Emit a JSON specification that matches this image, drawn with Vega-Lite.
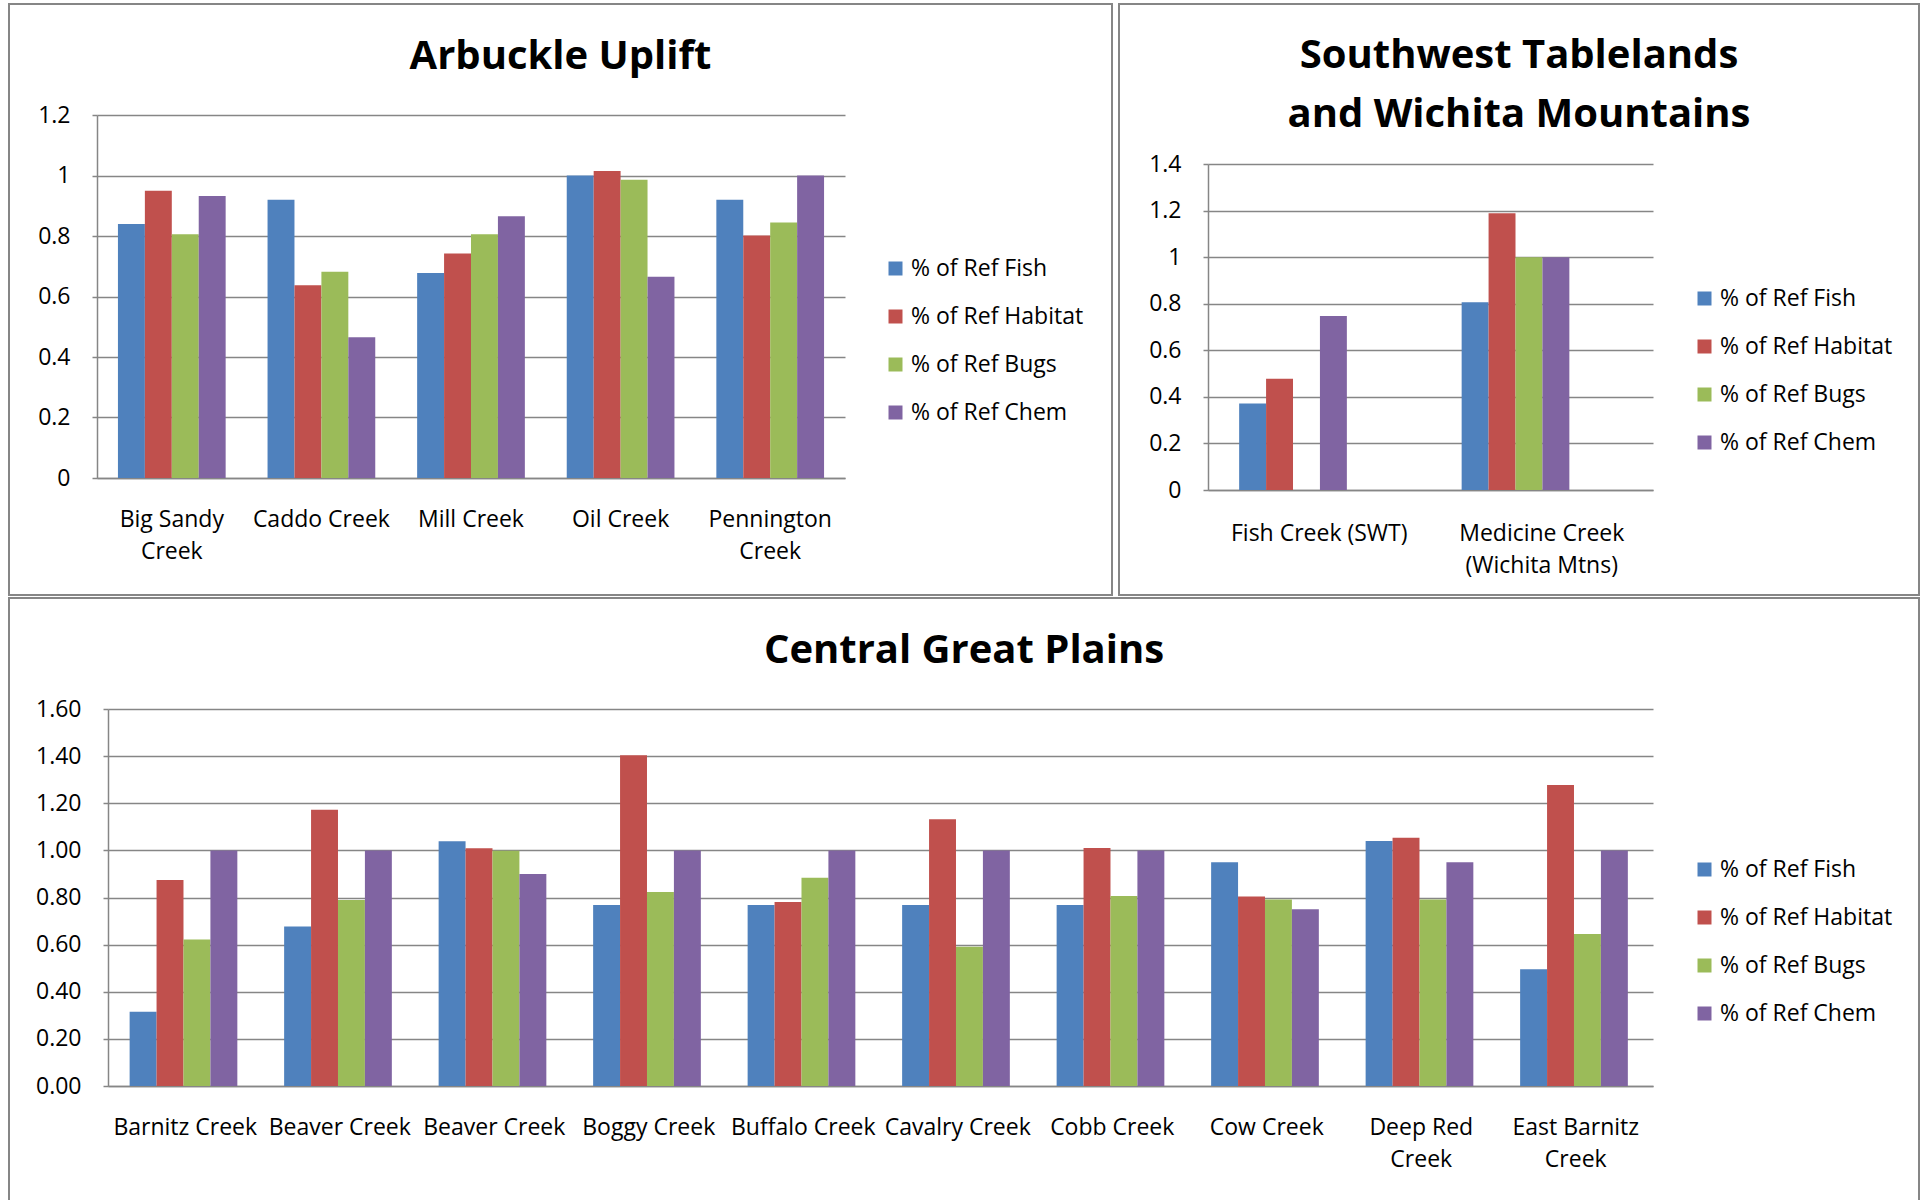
{
  "$schema": "https://vega.github.io/schema/vega-lite/v6.json",
  "padding": {"left": 8, "top": 3, "right": 0, "bottom": 0},
  "background": "white",
  "spacing": 1,
  "config": {
    "font": "Open Sans",
    "view": {"stroke": "#868686", "strokeWidth": 2},
    "axis": {
      "labelFont": "Open Sans", "labelFontSize": 23, "labelColor": "#000000",
      "domainColor": "#868686", "domainWidth": 1.5,
      "gridColor": "#868686", "gridWidth": 1.5,
      "tickColor": "#868686", "tickWidth": 1.5
    },
    "axisX": {"ticks": false, "grid": false, "labelAngle": 0, "labelBaseline": "alphabetic", "labelPadding": 48, "labelLineHeight": 32, "labelLimit": 0},
    "axisY": {"tickSize": 5, "labelPadding": 22, "grid": true},
    "legend": {
      "symbolType": "square", "symbolSize": 196, "symbolStrokeWidth": 0,
      "labelFont": "Open Sans", "labelFontSize": 23, "labelColor": "#000000",
      "rowPadding": 24, "labelOffset": 4, "padding": 0, "labelLimit": 0
    },
    "title": {"font": "Open Sans", "fontSize": 40, "fontWeight": "bold", "color": "#000000", "anchor": "middle", "frame": "group", "baseline": "alphabetic"}
  },
  "datasets": {
    "arb": [
      {"site": "Big Sandy|Creek", "series": "% of Ref Fish", "value": 0.84},
      {"site": "Big Sandy|Creek", "series": "% of Ref Habitat", "value": 0.95},
      {"site": "Big Sandy|Creek", "series": "% of Ref Bugs", "value": 0.806},
      {"site": "Big Sandy|Creek", "series": "% of Ref Chem", "value": 0.932},
      {"site": "Caddo Creek", "series": "% of Ref Fish", "value": 0.92},
      {"site": "Caddo Creek", "series": "% of Ref Habitat", "value": 0.637},
      {"site": "Caddo Creek", "series": "% of Ref Bugs", "value": 0.682},
      {"site": "Caddo Creek", "series": "% of Ref Chem", "value": 0.465},
      {"site": "Mill Creek", "series": "% of Ref Fish", "value": 0.678},
      {"site": "Mill Creek", "series": "% of Ref Habitat", "value": 0.742},
      {"site": "Mill Creek", "series": "% of Ref Bugs", "value": 0.806},
      {"site": "Mill Creek", "series": "% of Ref Chem", "value": 0.865},
      {"site": "Oil Creek", "series": "% of Ref Fish", "value": 1.0},
      {"site": "Oil Creek", "series": "% of Ref Habitat", "value": 1.015},
      {"site": "Oil Creek", "series": "% of Ref Bugs", "value": 0.986},
      {"site": "Oil Creek", "series": "% of Ref Chem", "value": 0.665},
      {"site": "Pennington|Creek", "series": "% of Ref Fish", "value": 0.92},
      {"site": "Pennington|Creek", "series": "% of Ref Habitat", "value": 0.802},
      {"site": "Pennington|Creek", "series": "% of Ref Bugs", "value": 0.845},
      {"site": "Pennington|Creek", "series": "% of Ref Chem", "value": 1.0}
    ],
    "swt": [
      {"site": "Fish Creek (SWT)", "series": "% of Ref Fish", "value": 0.371},
      {"site": "Fish Creek (SWT)", "series": "% of Ref Habitat", "value": 0.478},
      {"site": "Fish Creek (SWT)", "series": "% of Ref Chem", "value": 0.747},
      {"site": "Medicine Creek|(Wichita Mtns)", "series": "% of Ref Fish", "value": 0.806},
      {"site": "Medicine Creek|(Wichita Mtns)", "series": "% of Ref Habitat", "value": 1.188},
      {"site": "Medicine Creek|(Wichita Mtns)", "series": "% of Ref Bugs", "value": 1.0},
      {"site": "Medicine Creek|(Wichita Mtns)", "series": "% of Ref Chem", "value": 1.0}
    ],
    "cgp": [
      {"site": "Barnitz Creek", "series": "% of Ref Fish", "value": 0.315},
      {"site": "Barnitz Creek", "series": "% of Ref Habitat", "value": 0.874},
      {"site": "Barnitz Creek", "series": "% of Ref Bugs", "value": 0.622},
      {"site": "Barnitz Creek", "series": "% of Ref Chem", "value": 1.0},
      {"site": "Beaver Creek", "series": "% of Ref Fish", "value": 0.677},
      {"site": "Beaver Creek", "series": "% of Ref Habitat", "value": 1.172},
      {"site": "Beaver Creek", "series": "% of Ref Bugs", "value": 0.789},
      {"site": "Beaver Creek", "series": "% of Ref Chem", "value": 1.0},
      {"site": "Beaver Creek|", "series": "% of Ref Fish", "value": 1.039},
      {"site": "Beaver Creek|", "series": "% of Ref Habitat", "value": 1.009},
      {"site": "Beaver Creek|", "series": "% of Ref Bugs", "value": 0.998},
      {"site": "Beaver Creek|", "series": "% of Ref Chem", "value": 0.9},
      {"site": "Boggy Creek", "series": "% of Ref Fish", "value": 0.768},
      {"site": "Boggy Creek", "series": "% of Ref Habitat", "value": 1.404},
      {"site": "Boggy Creek", "series": "% of Ref Bugs", "value": 0.823},
      {"site": "Boggy Creek", "series": "% of Ref Chem", "value": 1.0},
      {"site": "Buffalo Creek", "series": "% of Ref Fish", "value": 0.768},
      {"site": "Buffalo Creek", "series": "% of Ref Habitat", "value": 0.781},
      {"site": "Buffalo Creek", "series": "% of Ref Bugs", "value": 0.884},
      {"site": "Buffalo Creek", "series": "% of Ref Chem", "value": 1.0},
      {"site": "Cavalry Creek", "series": "% of Ref Fish", "value": 0.768},
      {"site": "Cavalry Creek", "series": "% of Ref Habitat", "value": 1.132},
      {"site": "Cavalry Creek", "series": "% of Ref Bugs", "value": 0.591},
      {"site": "Cavalry Creek", "series": "% of Ref Chem", "value": 1.0},
      {"site": "Cobb Creek", "series": "% of Ref Fish", "value": 0.768},
      {"site": "Cobb Creek", "series": "% of Ref Habitat", "value": 1.01},
      {"site": "Cobb Creek", "series": "% of Ref Bugs", "value": 0.806},
      {"site": "Cobb Creek", "series": "% of Ref Chem", "value": 1.0},
      {"site": "Cow Creek", "series": "% of Ref Fish", "value": 0.95},
      {"site": "Cow Creek", "series": "% of Ref Habitat", "value": 0.804},
      {"site": "Cow Creek", "series": "% of Ref Bugs", "value": 0.792},
      {"site": "Cow Creek", "series": "% of Ref Chem", "value": 0.75},
      {"site": "Deep Red|Creek", "series": "% of Ref Fish", "value": 1.04},
      {"site": "Deep Red|Creek", "series": "% of Ref Habitat", "value": 1.054},
      {"site": "Deep Red|Creek", "series": "% of Ref Bugs", "value": 0.792},
      {"site": "Deep Red|Creek", "series": "% of Ref Chem", "value": 0.95},
      {"site": "East Barnitz|Creek", "series": "% of Ref Fish", "value": 0.496},
      {"site": "East Barnitz|Creek", "series": "% of Ref Habitat", "value": 1.277},
      {"site": "East Barnitz|Creek", "series": "% of Ref Bugs", "value": 0.645},
      {"site": "East Barnitz|Creek", "series": "% of Ref Chem", "value": 1.0}
    ]
  },
  "resolve": {"scale": {"color": "independent"}, "legend": {"color": "independent"}},
  "vconcat": [
    {
      "hconcat": [
        {
          "width": 1103, "height": 591,
          "title": {"text": "Arbuckle Uplift", "offset": -73},
          "data": {"name": "arb"},
          "mark": {"type": "bar"},
          "encoding": {
            "x": {"field": "site", "type": "nominal", "sort": null, "title": null,
                  "scale": {"range": [88, 836], "paddingInner": 0.28, "paddingOuter": 0.14},
                  "axis": {"offset": -117, "labelExpr": "split(datum.value, '|')"}},
            "xOffset": {"field": "series", "type": "nominal",
                  "scale": {"domain": ["% of Ref Fish", "% of Ref Habitat", "% of Ref Bugs", "% of Ref Chem"], "paddingInner": 0, "paddingOuter": 0}},
            "y": {"field": "value", "type": "quantitative", "title": null,
                  "scale": {"domain": [0, 1.2], "range": [474, 111], "nice": false},
                  "axis": {"offset": -88, "values": [0, 0.2, 0.4, 0.6, 0.8, 1, 1.2], "format": "~g"}},
            "color": {"field": "series", "type": "nominal",
                  "scale": {"domain": ["% of Ref Fish", "% of Ref Habitat", "% of Ref Bugs", "% of Ref Chem"], "range": ["#4F81BD", "#C0504D", "#9BBB59", "#8064A2"]},
                  "legend": {"title": null, "orient": "none", "legendX": 875, "legendY": 253}}
          }
        },
        {
          "width": 800, "height": 591,
          "title": {"text": ["Southwest Tablelands", "and Wichita Mountains"], "offset": -131, "lineHeight": 59},
          "data": {"name": "swt"},
          "mark": {"type": "bar"},
          "encoding": {
            "x": {"field": "site", "type": "nominal", "sort": null, "title": null,
                  "scale": {"range": [89, 534], "paddingInner": 0.28, "paddingOuter": 0.14},
                  "axis": {"offset": -105, "labelPadding": 50, "labelExpr": "split(datum.value, '|')"}},
            "xOffset": {"field": "series", "type": "nominal",
                  "scale": {"domain": ["% of Ref Fish", "% of Ref Habitat", "% of Ref Bugs", "% of Ref Chem"], "paddingInner": 0, "paddingOuter": 0}},
            "y": {"field": "value", "type": "quantitative", "title": null,
                  "scale": {"domain": [0, 1.4], "range": [486, 160], "nice": false},
                  "axis": {"offset": -89, "values": [0, 0.2, 0.4, 0.6, 0.8, 1, 1.2, 1.4], "format": "~g"}},
            "color": {"field": "series", "type": "nominal",
                  "scale": {"domain": ["% of Ref Fish", "% of Ref Habitat", "% of Ref Bugs", "% of Ref Chem"], "range": ["#4F81BD", "#C0504D", "#9BBB59", "#8064A2"]},
                  "legend": {"title": null, "orient": "none", "legendX": 574, "legendY": 283}}
          }
        }
      ],
      "spacing": 5,
      "resolve": {"scale": {"color": "independent"}, "legend": {"color": "independent"}}
    },
    {
      "width": 1910, "height": 605,
      "title": {"text": "Central Great Plains", "offset": -73},
      "data": {"name": "cgp"},
      "mark": {"type": "bar"},
      "encoding": {
        "x": {"field": "site", "type": "nominal", "sort": null, "title": null,
              "scale": {"range": [99, 1644], "paddingInner": 0.28, "paddingOuter": 0.14},
              "axis": {"offset": -117, "labelExpr": "split(datum.value, '|')"}},
        "xOffset": {"field": "series", "type": "nominal",
              "scale": {"domain": ["% of Ref Fish", "% of Ref Habitat", "% of Ref Bugs", "% of Ref Chem"], "paddingInner": 0, "paddingOuter": 0}},
        "y": {"field": "value", "type": "quantitative", "title": null,
              "scale": {"domain": [0, 1.6], "range": [488, 111], "nice": false},
              "axis": {"offset": -99, "values": [0, 0.2, 0.4, 0.6, 0.8, 1, 1.2, 1.4, 1.6], "format": ".2f"}},
        "color": {"field": "series", "type": "nominal",
              "scale": {"domain": ["% of Ref Fish", "% of Ref Habitat", "% of Ref Bugs", "% of Ref Chem"], "range": ["#4F81BD", "#C0504D", "#9BBB59", "#8064A2"]},
              "legend": {"title": null, "orient": "none", "legendX": 1684, "legendY": 260}}
      }
    }
  ]
}
